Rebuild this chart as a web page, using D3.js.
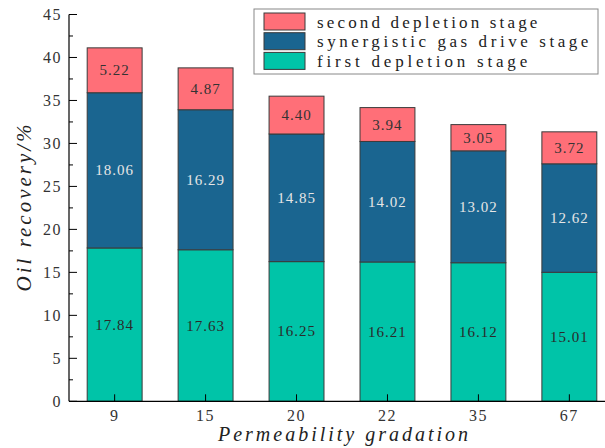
<!DOCTYPE html>
<html>
<head>
<meta charset="utf-8">
<script src="https://cdn.jsdelivr.net/npm/d3@7"></script>
<style>
  html, body { margin: 0; padding: 0; background: #fff; }
  svg { display: block; }
</style>
</head>
<body>
<div id="chart"></div>
<script>
// data
const categories = ['9', '15', '20', '22', '35', '67'];
const firstDepletion = [17.84, 17.63, 16.25, 16.21, 16.12, 15.01];
const synergisticGas = [18.06, 16.29, 14.85, 14.02, 13.02, 12.62];
const secondDepletion = [5.22, 4.87, 4.40, 3.94, 3.05, 3.72];
const seriesNames = ['first depletion stage', 'synergistic gas drive stage', 'second depletion stage'];
const yTicks = [0, 5, 10, 15, 20, 25, 30, 35, 40, 45];

const W = 605, H = 448;
const plotLeft = 69, plotBottom = 401.3, plotTop = 14.5;
const colors = ['#00c4a8', '#1a6590', '#ff6f78'];
const labelColors = ['#2a2a2a', '#e6e6e6', '#333'];
const serif = 'Liberation Serif, DejaVu Serif, serif';

const svg = d3.select('#chart').append('svg')
  .attr('width', W).attr('height', H);

const x = d3.scaleBand().domain(categories)
  .range([plotLeft, plotLeft + 91 * categories.length])
  .paddingInner(0.396).paddingOuter(0.2);
const y = d3.scaleLinear().domain([0, 45]).range([plotBottom, plotTop]);

// stack
const rows = categories.map((c, i) => ({
  cat: c, s0: firstDepletion[i], s1: synergisticGas[i], s2: secondDepletion[i]
}));
const stack = d3.stack().keys(['s0', 's1', 's2'])(rows);

stack.forEach((layer, li) => {
  const g = svg.append('g');
  g.selectAll('rect').data(layer).enter().append('rect')
    .attr('x', d => x(d.data.cat))
    .attr('y', d => y(d[1]))
    .attr('width', x.bandwidth())
    .attr('height', d => y(d[0]) - y(d[1]))
    .attr('fill', colors[li])
    .attr('stroke', '#3a3a3a').attr('stroke-width', 1);
  g.selectAll('text').data(layer).enter().append('text')
    .attr('x', d => x(d.data.cat) + x.bandwidth() / 2)
    .attr('y', d => y((d[0] + d[1]) / 2))
    .attr('text-anchor', 'middle').attr('dominant-baseline', 'central')
    .attr('font-family', serif).attr('font-size', 15)
    .attr('letter-spacing', 1)
    .attr('fill', labelColors[li])
    .text(d => (d[1] - d[0]).toFixed(2));
});

// y axis
const yAxis = svg.append('g').attr('transform', `translate(${plotLeft},0)`);
yAxis.append('line').attr('x1', 0).attr('x2', 0).attr('y1', plotTop).attr('y2', plotBottom)
  .attr('stroke', '#000').attr('stroke-width', 1.2);
d3.range(0, 45.01, 2.5).forEach(v => {
  const major = v % 5 === 0;
  yAxis.append('line').attr('x1', 0).attr('x2', major ? 8 : 4)
    .attr('y1', y(v)).attr('y2', y(v)).attr('stroke', '#000').attr('stroke-width', 1);
});
yAxis.selectAll('text.tick').data(yTicks).enter().append('text')
  .attr('x', -7).attr('y', d => y(d))
  .attr('text-anchor', 'end').attr('dominant-baseline', 'central')
  .attr('font-family', serif).attr('font-size', 16)
  .attr('letter-spacing', 1.5).attr('fill', '#333')
  .text(d => d);

// x axis
const xAxis = svg.append('g');
xAxis.append('line').attr('x1', plotLeft).attr('x2', W).attr('y1', plotBottom).attr('y2', plotBottom)
  .attr('stroke', '#000').attr('stroke-width', 1.2);
categories.forEach(c => {
  const cx = x(c) + x.bandwidth() / 2;
  xAxis.append('line').attr('x1', cx).attr('x2', cx).attr('y1', plotBottom).attr('y2', plotBottom - 7)
    .attr('stroke', '#000').attr('stroke-width', 1);
  xAxis.append('text').attr('x', cx).attr('y', plotBottom + 20)
    .attr('text-anchor', 'middle')
    .attr('font-family', serif).attr('font-size', 16)
    .attr('letter-spacing', 1.5).attr('fill', '#333')
    .text(c);
});

// axis titles
svg.append('text')
  .attr('transform', `translate(31,${(plotTop + plotBottom) / 2}) rotate(-90)`)
  .attr('text-anchor', 'middle')
  .attr('font-family', serif).attr('font-style', 'italic')
  .attr('font-size', 21).attr('fill', '#222')
  .attr('textLength', 167).attr('lengthAdjust', 'spacing')
  .text('Oil recovery/%');
svg.append('text')
  .attr('x', 343).attr('y', 441)
  .attr('text-anchor', 'middle')
  .attr('font-family', serif).attr('font-style', 'italic')
  .attr('font-size', 20).attr('fill', '#222')
  .attr('textLength', 250).attr('lengthAdjust', 'spacing')
  .text('Permeability gradation');

// legend
const lg = svg.append('g');
lg.append('rect').attr('x', 254).attr('y', 9).attr('width', 344).attr('height', 65)
  .attr('fill', '#fff').attr('stroke', '#888').attr('stroke-width', 1);
[2, 1, 0].forEach((si, r) => {
  const ry = 13 + r * 19.7;
  lg.append('rect').attr('x', 264).attr('y', ry).attr('width', 41).attr('height', 17)
    .attr('fill', colors[si]).attr('stroke', '#3a3a3a').attr('stroke-width', 1);
  lg.append('text').attr('x', 317).attr('y', ry + 9)
    .attr('dominant-baseline', 'central')
    .attr('font-family', serif).attr('font-size', 17).attr('fill', '#222')
    .attr('textLength', seriesNames[si].length * 10.2 - 4).attr('lengthAdjust', 'spacing')
    .text(seriesNames[si]);
});
</script>
</body>
</html>
